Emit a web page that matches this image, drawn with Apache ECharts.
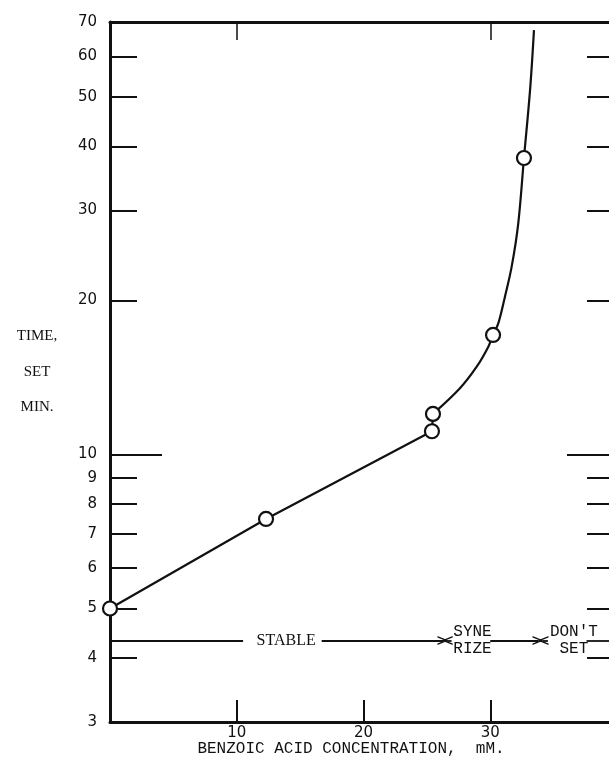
<!DOCTYPE html>
<html>
<head>
<meta charset="utf-8">
<script src="https://cdn.jsdelivr.net/npm/echarts@6/dist/echarts.min.js"></script>
<style>html,body{margin:0;padding:0;background:#fff;}#c{width:609px;height:759px;}</style>
</head>
<body>
<div id="c"></div>
<script>
// ---- data ----
const xTickValues = [10, 20, 30];
const xTopTickValues = [10, 30];
const yLabelValues = [3, 4, 5, 6, 7, 8, 9, 10, 20, 30, 40, 50, 60, 70];
const yTickValues = [4, 5, 6, 7, 8, 9, 20, 30, 40, 50, 60];
const yLongTickValues = [10];
const obsX = [0, 12.31, 25.40, 25.48, 30.22, 32.66];
const obsY = [5, 7.48, 11.1, 12.0, 17.12, 37.96];
const lineX = [0, 12.31, 25.40, 25.48];
const lineY = [5, 7.48, 11.1, 12.0];
const curveX = [25.48, 27.61, 28.93, 29.85, 30.22, 30.64, 31.16, 31.69, 32.21, 32.66, 33.14, 33.45];
const curveY = [12.0, 13.47, 14.84, 16.24, 17.12, 18.05, 20.34, 23.28, 28.30, 37.96, 51.5, 67.5];
const zoneLevel = 4.33;
const zoneSegX = [[0, 10.5], [16.7, 26.27], [26.95, 26.6], [30.0, 33.77], [34.55, 34.16], [37.6, 40]];
const zoneArrow = [false, true, true, true, true, false];
const zoneTexts = ['STABLE', 'SYNE\nRIZE', "DON'T\nSET"];
const zoneTextX = [13.9, 28.6, 36.6];

const yMin = 3, yMax = 70, xMin = 0, xMax = 40;
const lg = v => Math.log10(v);
const chevron = 'path://M0,10L5,0L10,10L8.4,10L5,3.2L1.6,10Z';
const numFont = {color: '#111', fontFamily: 'DejaVu Sans', fontSize: 15};

function tickAxis(position, values, length, labels) {
  return {
    type: 'value', position: position, min: lg(yMin), max: lg(yMax),
    axisLine: {show: false, onZero: false},
    splitLine: {show: false},
    axisTick: {show: true, inside: true, length: length, customValues: values.map(lg),
      lineStyle: {color: '#111', width: 2}},
    axisLabel: labels ? Object.assign({show: true, margin: 13, customValues: labels.map(lg),
      formatter: v => String(Math.round(Math.pow(10, v)))}, numFont) : {show: false}
  };
}

const zoneLines = zoneSegX.map((s, i) => [
  {coord: [s[0], zoneLevel], symbol: 'none'},
  {coord: [s[1], zoneLevel], symbol: zoneArrow[i] ? chevron : 'none', symbolSize: [9, 11]}
]);

const option = {
  backgroundColor: '#fff',
  animation: false,
  grid: {left: 110, top: 22, width: 507, height: 700, containLabel: false, outerBoundsMode: 'none'},
  xAxis: [
    {type: 'value', position: 'bottom', min: xMin, max: xMax,
      name: 'BENZOIC ACID CONCENTRATION,  mM.', nameLocation: 'middle', nameGap: 19, nameMoveOverlap: false,
      nameTextStyle: {color: '#111', fontFamily: 'Liberation Mono', fontSize: 16, padding: [0, 25, 0, 0]},
      axisLine: {show: true, onZero: false, lineStyle: {color: '#111', width: 3}},
      axisTick: {show: true, inside: true, length: 22, customValues: xTickValues, lineStyle: {color: '#111', width: 2}},
      axisLabel: Object.assign({}, numFont, {show: true, margin: 4, customValues: xTickValues}),
      splitLine: {show: false}},
    {type: 'value', position: 'top', min: xMin, max: xMax,
      axisLine: {show: true, onZero: false, lineStyle: {color: '#111', width: 3}},
      axisTick: {show: true, inside: true, length: 18, customValues: xTopTickValues, lineStyle: {color: '#111', width: 1.5}},
      axisLabel: {show: false}, splitLine: {show: false}}
  ],
  yAxis: [
    {type: 'log', logBase: 10, position: 'left', min: yMin, max: yMax,
      name: 'TIME,\nSET\nMIN.', nameLocation: 'middle', nameRotate: 0, nameGap: 73, nameMoveOverlap: false,
      nameTextStyle: {color: '#111', fontFamily: 'Liberation Serif', fontSize: 15, lineHeight: 35.5,
        align: 'center', verticalAlign: 'middle', padding: [0, 0, 12, 0]},
      axisLine: {show: true, onZero: false, lineStyle: {color: '#111', width: 3}},
      axisTick: {show: false}, axisLabel: {show: false}, splitLine: {show: false}},
    tickAxis('left', yTickValues, 27, yLabelValues),
    tickAxis('left', yLongTickValues, 52, null),
    tickAxis('right', yTickValues, 30, null),
    tickAxis('right', yLongTickValues, 50, null)
  ],
  series: [
    {type: 'line', xAxisIndex: 0, yAxisIndex: 0, data: lineX.map((x, i) => [x, lineY[i]]),
      symbol: 'none', clip: false, lineStyle: {color: '#111', width: 2.2}, z: 3},
    {type: 'line', xAxisIndex: 0, yAxisIndex: 0, data: curveX.map((x, i) => [x, curveY[i]]),
      symbol: 'none', smooth: 0.35, clip: false, lineStyle: {color: '#111', width: 2.2}, z: 3},
    {type: 'scatter', xAxisIndex: 0, yAxisIndex: 0, data: obsX.map((x, i) => [x, obsY[i]]),
      symbol: 'circle', symbolSize: 14, clip: false, z: 5,
      itemStyle: {color: '#fff', borderColor: '#111', borderWidth: 2.2, opacity: 1},
      markLine: {silent: true, symbol: 'none', label: {show: false},
        lineStyle: {color: '#111', width: 1.8, type: 'solid'},
        emphasis: {disabled: true},
        data: zoneLines},
      markPoint: {silent: true, symbol: 'circle', symbolSize: 1,
        itemStyle: {color: 'rgba(0,0,0,0)'},
        data: zoneTexts.map((t, i) => ({name: t, coord: [zoneTextX[i], zoneLevel],
          label: {show: true, position: 'inside', formatter: '{b}', color: '#111',
            fontFamily: i === 0 ? 'Liberation Serif' : 'Liberation Mono',
            fontSize: 16, lineHeight: 17}}))}
    }
  ]
};
const chart = echarts.init(document.getElementById('c'), null, {renderer: 'canvas'});
chart.setOption(option);
</script>
</body>
</html>
